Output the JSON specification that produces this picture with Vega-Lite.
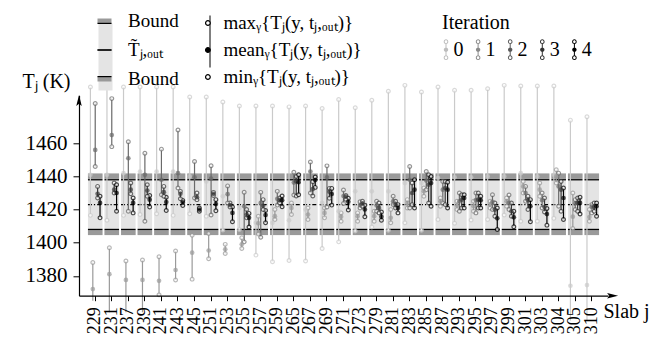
{
 "$schema": "https://vega.github.io/schema/vega-lite/v6.json",
 "width": 529,
 "height": 200.4,
 "autosize": {"type": "none"},
 "padding": {"left": 79, "top": 95.3, "right": 48, "bottom": 49.3},
 "config": {
  "view": {"stroke": null},
  "font": "Liberation Serif",
  "style": {"guide-label": {"font": "Liberation Serif"}, "guide-title": {"font": "Liberation Serif"}},
  "axis": {"domainColor": "black", "tickColor": "black", "labelColor": "black", "titleColor": "black", "labelFont": "Liberation Serif", "titleFont": "Liberation Serif", "grid": false, "labelFontSize": 20, "titleFontSize": 20, "titleFontWeight": "normal", "tickSize": 5, "domainWidth": 1.2, "tickWidth": 1},
  "legend": {"labelFont": "Liberation Serif", "titleFont": "Liberation Serif", "labelColor": "black", "titleColor": "black", "labelFontSize": 19, "titleFontSize": 20, "titleFontWeight": "normal", "padding": 0, "labelLimit": 400}
 },
 "datasets": {
  "slabs": [
   {"slab":"229","lo":1404.6,"lo_in":1407.6,"lb":1408,"t":1423,"ub":1438,"hi_in":1438.5,"hi":1441.8},
   {"slab":"231","lo":1404.6,"lo_in":1407.6,"lb":1408,"t":1423,"ub":1438,"hi_in":1438.5,"hi":1441.8},
   {"slab":"237","lo":1404.6,"lo_in":1407.6,"lb":1408,"t":1423,"ub":1438,"hi_in":1438.5,"hi":1441.8},
   {"slab":"239","lo":1404.6,"lo_in":1407.6,"lb":1408,"t":1423,"ub":1438,"hi_in":1438.5,"hi":1441.8},
   {"slab":"241","lo":1404.6,"lo_in":1407.6,"lb":1408,"t":1423,"ub":1438,"hi_in":1438.5,"hi":1441.8},
   {"slab":"243","lo":1404.6,"lo_in":1407.6,"lb":1408,"t":1423,"ub":1438,"hi_in":1438.5,"hi":1441.8},
   {"slab":"245","lo":1404.6,"lo_in":1407.6,"lb":1408,"t":1423,"ub":1438,"hi_in":1438.5,"hi":1441.8},
   {"slab":"251","lo":1404.6,"lo_in":1407.6,"lb":1408,"t":1423,"ub":1438,"hi_in":1438.5,"hi":1441.8},
   {"slab":"253","lo":1404.6,"lo_in":1407.6,"lb":1408,"t":1423,"ub":1438,"hi_in":1438.5,"hi":1441.8},
   {"slab":"255","lo":1404.6,"lo_in":1407.6,"lb":1408,"t":1423,"ub":1438,"hi_in":1438.5,"hi":1441.8},
   {"slab":"257","lo":1404.6,"lo_in":1407.6,"lb":1408,"t":1423,"ub":1438,"hi_in":1438.5,"hi":1441.8},
   {"slab":"259","lo":1404.6,"lo_in":1407.6,"lb":1408,"t":1423,"ub":1438,"hi_in":1438.5,"hi":1441.8},
   {"slab":"265","lo":1404.6,"lo_in":1407.6,"lb":1408,"t":1423,"ub":1438,"hi_in":1438.5,"hi":1441.8},
   {"slab":"267","lo":1404.6,"lo_in":1407.6,"lb":1408,"t":1423,"ub":1438,"hi_in":1438.5,"hi":1441.8},
   {"slab":"269","lo":1404.6,"lo_in":1407.6,"lb":1408,"t":1423,"ub":1438,"hi_in":1438.5,"hi":1441.8},
   {"slab":"271","lo":1404.6,"lo_in":1407.6,"lb":1408,"t":1423,"ub":1438,"hi_in":1438.5,"hi":1441.8},
   {"slab":"273","lo":1404.6,"lo_in":1407.6,"lb":1408,"t":1423,"ub":1438,"hi_in":1438.5,"hi":1441.8},
   {"slab":"279","lo":1404.6,"lo_in":1407.6,"lb":1408,"t":1423,"ub":1438,"hi_in":1438.5,"hi":1441.8},
   {"slab":"281","lo":1404.6,"lo_in":1407.6,"lb":1408,"t":1423,"ub":1438,"hi_in":1438.5,"hi":1441.8},
   {"slab":"283","lo":1404.6,"lo_in":1407.6,"lb":1408,"t":1423,"ub":1438,"hi_in":1438.5,"hi":1441.8},
   {"slab":"285","lo":1404.6,"lo_in":1407.6,"lb":1408,"t":1423,"ub":1438,"hi_in":1438.5,"hi":1441.8},
   {"slab":"287","lo":1404.6,"lo_in":1407.6,"lb":1408,"t":1423,"ub":1438,"hi_in":1438.5,"hi":1441.8},
   {"slab":"293","lo":1404.6,"lo_in":1407.6,"lb":1408,"t":1423,"ub":1438,"hi_in":1438.5,"hi":1441.8},
   {"slab":"295","lo":1404.6,"lo_in":1407.6,"lb":1408,"t":1423,"ub":1438,"hi_in":1438.5,"hi":1441.8},
   {"slab":"297","lo":1404.6,"lo_in":1407.6,"lb":1408,"t":1423,"ub":1438,"hi_in":1438.5,"hi":1441.8},
   {"slab":"299","lo":1404.6,"lo_in":1407.6,"lb":1408,"t":1423,"ub":1438,"hi_in":1438.5,"hi":1441.8},
   {"slab":"301","lo":1404.6,"lo_in":1407.6,"lb":1408,"t":1423,"ub":1438,"hi_in":1438.5,"hi":1441.8},
   {"slab":"303","lo":1404.6,"lo_in":1407.6,"lb":1408,"t":1423,"ub":1438,"hi_in":1438.5,"hi":1441.8},
   {"slab":"304","lo":1404.6,"lo_in":1407.6,"lb":1408,"t":1423,"ub":1438,"hi_in":1438.5,"hi":1441.8},
   {"slab":"305","lo":1404.6,"lo_in":1407.6,"lb":1408,"t":1423,"ub":1438,"hi_in":1438.5,"hi":1441.8},
   {"slab":"310","lo":1404.6,"lo_in":1407.6,"lb":1408,"t":1423,"ub":1438,"hi_in":1438.5,"hi":1441.8}
  ],
  "stats": [
   {"s":"229","it":0,"mn":1416.5,"me":1441,"mx":1494},{"s":"229","it":1,"mn":1365,"me":1372,"mx":1388},{"s":"229","it":2,"mn":1446,"me":1456,"mx":1484},{"s":"229","it":3,"mn":1427,"me":1429.5,"mx":1434},{"s":"229","it":4,"mn":1415,"me":1424,"mx":1428},
   {"s":"231","it":0,"mn":1413.5,"me":1441,"mx":1495},{"s":"231","it":1,"mn":1358,"me":1381,"mx":1397},{"s":"231","it":2,"mn":1458,"me":1465,"mx":1487},{"s":"231","it":3,"mn":1430,"me":1432,"mx":1436},{"s":"231","it":4,"mn":1419,"me":1430,"mx":1435},
   {"s":"237","it":0,"mn":1416.5,"me":1442,"mx":1494},{"s":"237","it":1,"mn":1358,"me":1377.5,"mx":1389},{"s":"237","it":2,"mn":1419,"me":1451,"mx":1461},{"s":"237","it":3,"mn":1429.5,"me":1432,"mx":1436},{"s":"237","it":4,"mn":1418,"me":1424,"mx":1427},
   {"s":"239","it":0,"mn":1417,"me":1443,"mx":1494},{"s":"239","it":1,"mn":1358,"me":1377.5,"mx":1389.5},{"s":"239","it":2,"mn":1413,"me":1441,"mx":1454},{"s":"239","it":3,"mn":1428,"me":1431.5,"mx":1435},{"s":"239","it":4,"mn":1421.5,"me":1426,"mx":1428.5},
   {"s":"241","it":0,"mn":1417.5,"me":1443,"mx":1494},{"s":"241","it":1,"mn":1368.5,"me":1377,"mx":1391.5},{"s":"241","it":2,"mn":1429,"me":1438,"mx":1456.5},{"s":"241","it":3,"mn":1428,"me":1430.5,"mx":1434},{"s":"241","it":4,"mn":1419.5,"me":1424.5,"mx":1427.5},
   {"s":"243","it":0,"mn":1416.5,"me":1443,"mx":1494},{"s":"243","it":1,"mn":1377.5,"me":1383.5,"mx":1395},{"s":"243","it":2,"mn":1433,"me":1442,"mx":1468},{"s":"243","it":3,"mn":1426.5,"me":1429.5,"mx":1431},{"s":"243","it":4,"mn":1422.5,"me":1424.3,"mx":1425.5},
   {"s":"245","it":0,"mn":1417.5,"me":1440,"mx":1488},{"s":"245","it":1,"mn":1378,"me":1394,"mx":1404.5},{"s":"245","it":2,"mn":1427,"me":1439.5,"mx":1449},{"s":"245","it":3,"mn":1426,"me":1427.5,"mx":1430},{"s":"245","it":4,"mn":1419,"me":1420,"mx":1421},
   {"s":"251","it":0,"mn":1416,"me":1437,"mx":1488},{"s":"251","it":1,"mn":1390.3,"me":1395.3,"mx":1405.5},{"s":"251","it":2,"mn":1416.7,"me":1438.7,"mx":1446.5},{"s":"251","it":3,"mn":1428.5,"me":1429.5,"mx":1430.4},{"s":"251","it":4,"mn":1419.3,"me":1423.3,"mx":1426},
   {"s":"253","it":0,"mn":1407.6,"me":1428,"mx":1485},{"s":"253","it":1,"mn":1393.5,"me":1396,"mx":1399},{"s":"253","it":2,"mn":1424,"me":1429.3,"mx":1434.3},{"s":"253","it":3,"mn":1421.5,"me":1422.7,"mx":1424},{"s":"253","it":4,"mn":1412.7,"me":1418,"mx":1421.5},
   {"s":"255","it":0,"mn":1408,"me":1421,"mx":1482.5},{"s":"255","it":1,"mn":1396.5,"me":1399,"mx":1403},{"s":"255","it":2,"mn":1400.5,"me":1422,"mx":1430.5},{"s":"255","it":3,"mn":1415,"me":1417,"mx":1420},{"s":"255","it":4,"mn":1409.5,"me":1415,"mx":1417.7},
   {"s":"257","it":0,"mn":1392.5,"me":1412,"mx":1482.5},{"s":"257","it":1,"mn":1405.2,"me":1411.7,"mx":1416},{"s":"257","it":2,"mn":1403.3,"me":1424,"mx":1430.4},{"s":"257","it":3,"mn":1420,"me":1422.3,"mx":1426},{"s":"257","it":4,"mn":1412,"me":1416.7,"mx":1419.5},
   {"s":"259","it":0,"mn":1388.5,"me":1412,"mx":1482.5},{"s":"259","it":1,"mn":1414,"me":1416,"mx":1420},{"s":"259","it":2,"mn":1422.7,"me":1426.5,"mx":1431},{"s":"259","it":3,"mn":1424,"me":1425.7,"mx":1427},{"s":"259","it":4,"mn":1421.7,"me":1425.7,"mx":1428.2},
   {"s":"265","it":0,"mn":1389.3,"me":1413.5,"mx":1482},{"s":"265","it":1,"mn":1417,"me":1421,"mx":1424},{"s":"265","it":2,"mn":1428.8,"me":1436.3,"mx":1442.5},{"s":"265","it":3,"mn":1428.2,"me":1437,"mx":1440},{"s":"265","it":4,"mn":1429,"me":1436.5,"mx":1441},
   {"s":"267","it":0,"mn":1389,"me":1420,"mx":1482.5},{"s":"267","it":1,"mn":1414,"me":1417,"mx":1421},{"s":"267","it":2,"mn":1430,"me":1443,"mx":1448.7},{"s":"267","it":3,"mn":1428.2,"me":1432.4,"mx":1436.8},{"s":"267","it":4,"mn":1433.4,"me":1437.8,"mx":1439.7},
   {"s":"269","it":0,"mn":1396.5,"me":1424,"mx":1481},{"s":"269","it":1,"mn":1415,"me":1418,"mx":1421},{"s":"269","it":2,"mn":1421.5,"me":1439.4,"mx":1446.4},{"s":"269","it":3,"mn":1426.8,"me":1430.8,"mx":1432.8},{"s":"269","it":4,"mn":1422.7,"me":1429.4,"mx":1432.8},
   {"s":"271","it":0,"mn":1400.5,"me":1419,"mx":1486.5},{"s":"271","it":1,"mn":1413,"me":1415.7,"mx":1418},{"s":"271","it":2,"mn":1423.7,"me":1428.2,"mx":1431.8},{"s":"271","it":3,"mn":1426.2,"me":1427.8,"mx":1428.5},{"s":"271","it":4,"mn":1419.7,"me":1424.7,"mx":1426.8},
   {"s":"273","it":0,"mn":1407,"me":1431,"mx":1481.5},{"s":"273","it":1,"mn":1413,"me":1416,"mx":1418},{"s":"273","it":2,"mn":1421,"me":1422.7,"mx":1424.7},{"s":"273","it":3,"mn":1422,"me":1423.7,"mx":1425},{"s":"273","it":4,"mn":1415.7,"me":1420.1,"mx":1422.7},
   {"s":"279","it":0,"mn":1409.5,"me":1431,"mx":1486},{"s":"279","it":1,"mn":1413,"me":1416,"mx":1419},{"s":"279","it":2,"mn":1419,"me":1422.5,"mx":1425},{"s":"279","it":3,"mn":1418,"me":1421,"mx":1424},{"s":"279","it":4,"mn":1413.5,"me":1415.7,"mx":1418.5},
   {"s":"281","it":0,"mn":1407.5,"me":1431,"mx":1491.5},{"s":"281","it":1,"mn":1412,"me":1415,"mx":1420},{"s":"281","it":2,"mn":1423,"me":1425,"mx":1428},{"s":"281","it":3,"mn":1421,"me":1423,"mx":1425},{"s":"281","it":4,"mn":1418,"me":1421,"mx":1423},
   {"s":"283","it":0,"mn":1412,"me":1436,"mx":1495},{"s":"283","it":1,"mn":1421,"me":1424,"mx":1426},{"s":"283","it":2,"mn":1421,"me":1438,"mx":1446},{"s":"283","it":3,"mn":1423,"me":1430,"mx":1436},{"s":"283","it":4,"mn":1421,"me":1432,"mx":1438},
   {"s":"285","it":0,"mn":1407.5,"me":1436,"mx":1491},{"s":"285","it":1,"mn":1428,"me":1431,"mx":1433},{"s":"285","it":2,"mn":1432,"me":1437.5,"mx":1443},{"s":"285","it":3,"mn":1424,"me":1435,"mx":1441},{"s":"285","it":4,"mn":1422,"me":1436,"mx":1440},
   {"s":"287","it":0,"mn":1414,"me":1439,"mx":1494},{"s":"287","it":1,"mn":1422,"me":1425,"mx":1427},{"s":"287","it":2,"mn":1424,"me":1432,"mx":1437},{"s":"287","it":3,"mn":1423,"me":1433,"mx":1437},{"s":"287","it":4,"mn":1421,"me":1432,"mx":1436.5},
   {"s":"293","it":0,"mn":1411.7,"me":1439.5,"mx":1492},{"s":"293","it":1,"mn":1420,"me":1422.5,"mx":1425},{"s":"293","it":2,"mn":1419,"me":1425,"mx":1430},{"s":"293","it":3,"mn":1421,"me":1426,"mx":1429},{"s":"293","it":4,"mn":1421,"me":1427,"mx":1429},
   {"s":"295","it":0,"mn":1413.7,"me":1439.5,"mx":1492},{"s":"295","it":1,"mn":1419,"me":1422,"mx":1425},{"s":"295","it":2,"mn":1418,"me":1425.7,"mx":1430},{"s":"295","it":3,"mn":1421,"me":1426,"mx":1430},{"s":"295","it":4,"mn":1421,"me":1425.7,"mx":1428},
   {"s":"297","it":0,"mn":1414,"me":1440,"mx":1493},{"s":"297","it":1,"mn":1421,"me":1423,"mx":1425},{"s":"297","it":2,"mn":1420,"me":1424.7,"mx":1429},{"s":"297","it":3,"mn":1416,"me":1420,"mx":1424},{"s":"297","it":4,"mn":1408,"me":1414.7,"mx":1421},
   {"s":"299","it":0,"mn":1416.7,"me":1440,"mx":1495},{"s":"299","it":1,"mn":1422,"me":1425,"mx":1427},{"s":"299","it":2,"mn":1420,"me":1424,"mx":1428.8},{"s":"299","it":3,"mn":1416,"me":1419,"mx":1424},{"s":"299","it":4,"mn":1409.6,"me":1415.3,"mx":1419},
   {"s":"301","it":0,"mn":1413,"me":1442,"mx":1494.6},{"s":"301","it":1,"mn":1430,"me":1434,"mx":1437},{"s":"301","it":2,"mn":1425,"me":1430,"mx":1434},{"s":"301","it":3,"mn":1420,"me":1425.7,"mx":1428},{"s":"301","it":4,"mn":1412.6,"me":1422,"mx":1426},
   {"s":"303","it":0,"mn":1413,"me":1440,"mx":1494.6},{"s":"303","it":1,"mn":1428,"me":1432,"mx":1436},{"s":"303","it":2,"mn":1421,"me":1425.7,"mx":1430},{"s":"303","it":3,"mn":1418.5,"me":1421.5,"mx":1427},{"s":"303","it":4,"mn":1410.6,"me":1417.3,"mx":1420.7},
   {"s":"304","it":0,"mn":1414.7,"me":1441,"mx":1494.6},{"s":"304","it":1,"mn":1436,"me":1440,"mx":1444},{"s":"304","it":2,"mn":1422,"me":1434,"mx":1442},{"s":"304","it":3,"mn":1419,"me":1432,"mx":1437},{"s":"304","it":4,"mn":1414,"me":1427,"mx":1433},
   {"s":"305","it":0,"mn":1353,"me":1374,"mx":1474},{"s":"305","it":1,"mn":1408.6,"me":1415.7,"mx":1430},{"s":"305","it":2,"mn":1420,"me":1423.7,"mx":1426},{"s":"305","it":3,"mn":1419,"me":1424,"mx":1427},{"s":"305","it":4,"mn":1417.3,"me":1424,"mx":1427.4},
   {"s":"310","it":0,"mn":1353,"me":1374.4,"mx":1476},{"s":"310","it":1,"mn":1413,"me":1415.5,"mx":1420},{"s":"310","it":2,"mn":1418,"me":1421.7,"mx":1423},{"s":"310","it":3,"mn":1419,"me":1421.5,"mx":1424},{"s":"310","it":4,"mn":1416,"me":1422,"mx":1424}
  ]
 },
 "layer": [
  {
   "data": {"name": "slabs"},
   "mark": {"type": "rect", "fill": "#e4e4e4"},
   "encoding": {
    "x": {"field": "slab", "type": "nominal",
     "scale": {"type": "band", "domain": ["229","231","237","239","241","243","245","251","253","255","257","259","265","267","269","271","273","279","281","283","285","287","293","295","297","299","301","303","304","305","310"], "paddingInner": 0.12, "paddingOuter": 0.54},
     "axis": {"labelAngle": -90, "labelAlign": "right", "labelBaseline": "middle", "labelPadding": 6, "labelFontSize": 18, "labelFont": "Liberation Serif", "titleFont": "Liberation Serif", "title": "Slab j", "titleAngle": 0, "titleX": 524, "titleY": 22, "titleAlign": "left", "titleBaseline": "alphabetic"}},
    "y": {"field": "lo", "type": "quantitative",
     "scale": {"domain": [1368, 1489], "nice": false, "zero": false},
     "axis": {"values": [1380, 1400, 1420, 1440, 1460], "format": "d", "labelFontSize": 21, "labelFont": "Liberation Serif", "titleFont": "Liberation Serif", "title": "Tⱼ (K)", "titleAngle": 0, "titleX": -57, "titleY": -8, "titleAlign": "left", "titleBaseline": "alphabetic", "labelPadding": 6, "tickSize": 6}},
    "y2": {"field": "hi"}
   }
  },
  {
   "data": {"name": "slabs"},
   "mark": {"type": "rect", "fill": "#9a9a9a"},
   "encoding": {"x": {"field": "slab", "type": "nominal"}, "y": {"field": "hi_in", "type": "quantitative"}, "y2": {"field": "hi"}}
  },
  {
   "data": {"name": "slabs"},
   "mark": {"type": "rect", "fill": "#9a9a9a"},
   "encoding": {"x": {"field": "slab", "type": "nominal"}, "y": {"field": "lo", "type": "quantitative"}, "y2": {"field": "lo_in"}}
  },
  {
   "data": {"name": "slabs"},
   "mark": {"type": "rule", "color": "black", "strokeWidth": 1.3},
   "encoding": {"x": {"field": "slab", "type": "nominal", "bandPosition": 0}, "x2": {"field": "slab", "bandPosition": 1}, "y": {"field": "ub", "type": "quantitative"}}
  },
  {
   "data": {"name": "slabs"},
   "mark": {"type": "rule", "color": "black", "strokeWidth": 1.3},
   "encoding": {"x": {"field": "slab", "type": "nominal", "bandPosition": 0}, "x2": {"field": "slab", "bandPosition": 1}, "y": {"field": "lb", "type": "quantitative"}}
  },
  {
   "data": {"name": "slabs"},
   "mark": {"type": "rule", "color": "black", "strokeWidth": 1.1, "strokeDash": [4, 2, 1.2, 2]},
   "encoding": {"x": {"field": "slab", "type": "nominal", "bandPosition": 0}, "x2": {"field": "slab", "bandPosition": 1}, "y": {"field": "t", "type": "quantitative"}}
  },
  {
   "data": {"name": "stats"},
   "mark": {"type": "rule", "strokeWidth": 1.2},
   "encoding": {
    "x": {"field": "s", "type": "nominal"},
    "xOffset": {"field": "it", "type": "nominal", "scale": {"type": "band", "domain": [0,1,2,3,4], "paddingInner": 0, "paddingOuter": 0.53}},
    "y": {"field": "mn", "type": "quantitative"}, "y2": {"field": "mx"},
    "stroke": {"field": "it", "type": "nominal", "scale": {"domain": [0,1,2,3,4], "range": ["#cacaca", "#9a9a9a", "#6a6a6a", "#383838", "#000000"]}, "legend": null}
   }
  },
  {
   "data": {"name": "stats"},
   "mark": {"type": "point", "shape": "circle", "filled": true, "fill": "white", "size": 14, "strokeWidth": 1.2},
   "encoding": {
    "x": {"field": "s", "type": "nominal"},
    "xOffset": {"field": "it", "type": "nominal"},
    "y": {"field": "mx", "type": "quantitative"},
    "stroke": {"field": "it", "type": "nominal", "legend": null}
   }
  },
  {
   "data": {"name": "stats"},
   "transform": [{"filter": "datum.mn >= 1366"}],
   "mark": {"type": "point", "shape": "circle", "filled": true, "fill": "white", "size": 14, "strokeWidth": 1.2},
   "encoding": {
    "x": {"field": "s", "type": "nominal"},
    "xOffset": {"field": "it", "type": "nominal"},
    "y": {"field": "mn", "type": "quantitative"},
    "stroke": {"field": "it", "type": "nominal", "legend": null}
   }
  },
  {
   "data": {"name": "stats"},
   "mark": {"type": "point", "shape": "circle", "filled": true, "size": 22, "strokeWidth": 0},
   "encoding": {
    "x": {"field": "s", "type": "nominal"},
    "xOffset": {"field": "it", "type": "nominal"},
    "y": {"field": "me", "type": "quantitative"},
    "fill": {"field": "it", "type": "nominal", "scale": {"domain": [0,1,2,3,4], "range": ["#cacaca", "#9a9a9a", "#6a6a6a", "#383838", "#000000"]}, "legend": null}
   }
  },
  {
   "data": {"values": [{"slab": "229", "T": 1485.9}]},
   "mark": {"type": "point", "shape": "M-0.5,1L0,-1L0.5,1L0,0.6Z", "filled": true, "color": "black", "size": 121, "strokeWidth": 0, "opacity": 1},
   "encoding": {"x": {"field": "slab", "type": "nominal", "bandPosition": -0.613}, "y": {"field": "T", "type": "quantitative"}}
  },
  {
   "data": {"values": [{"slab": "310", "T": 1368}]},
   "mark": {"type": "point", "shape": "M-1,-0.5L1,0L-1,0.5L-0.6,0Z", "filled": true, "color": "black", "size": 121, "strokeWidth": 0, "opacity": 1},
   "encoding": {"x": {"field": "slab", "type": "nominal", "bandPosition": 1.928}, "y": {"field": "T", "type": "quantitative"}}
  },
  {
   "data": {"values": [{"k": "bg"}]},
   "mark": {"type": "point", "filled": true, "opacity": 0},
   "encoding": {
    "fill": {"field": "k", "type": "nominal", "scale": {"range": ["#e4e4e4"]},
     "legend": {"orient": "none", "legendX": 17, "legendY": -47.8, "title": null, "symbolType": "M-7,-33.5H7V33.5H-7Z", "symbolSize": 4, "symbolStrokeWidth": 0, "symbolOpacity": 1, "labelExpr": "''"}}
   }
  },
  {
   "data": {"values": [{"b": "Bound"}, {"b": "T̃ⱼ,ₒᵤₜ"}, {"b": "Bound "}]},
   "mark": {"type": "point", "filled": true, "opacity": 0},
   "encoding": {
    "fill": {"field": "b", "type": "nominal", "scale": {"domain": ["Bound", "T̃ⱼ,ₒᵤₜ", "Bound "], "range": ["#9a9a9a", "#000000", "#9a9a9a"]},
     "legend": {"orient": "none", "legendX": 18, "legendY": -83.8, "title": null, "symbolSize": 4, "symbolStrokeWidth": 0, "symbolOpacity": 1, "symbolOffset": -2, "labelOffset": 14, "rowPadding": 9}},
    "shape": {"field": "b", "type": "nominal", "scale": {"domain": ["Bound", "T̃ⱼ,ₒᵤₜ", "Bound "], "range": ["M-7,-2.5H7V2.5H-7Z", "M-7,-0.6H7V0.6H-7Z", "M-7,-2.5H7V2.5H-7Z"]},
     "legend": {"orient": "none", "legendX": 18, "legendY": -83.8, "title": null, "symbolSize": 4, "symbolStrokeWidth": 0, "symbolOpacity": 1, "symbolOffset": -2, "labelOffset": 14, "rowPadding": 9}}
   }
  },
  {
   "data": {"values": [{"c": "Bound"}, {"c": "T̃ⱼ,ₒᵤₜ"}, {"c": "Bound "}]},
   "mark": {"type": "point", "filled": true, "opacity": 0},
   "encoding": {
    "fill": {"field": "c", "type": "nominal", "scale": {"domain": ["Bound", "T̃ⱼ,ₒᵤₜ", "Bound "], "range": ["#000000", "#000000", "#000000"]},
     "legend": {"orient": "none", "legendX": 18, "legendY": -83.8, "title": null, "symbolSize": 4, "symbolStrokeWidth": 0, "symbolOpacity": 1, "symbolOffset": -2, "labelOffset": 14, "rowPadding": 9, "labelOpacity": 0}},
    "shape": {"field": "c", "type": "nominal", "scale": {"domain": ["Bound", "T̃ⱼ,ₒᵤₜ", "Bound "], "range": ["M-7,1.8H7V3H-7Z", "M-7,-0.6H7V0.6H-7Z", "M-7,-3H7V-1.8H-7Z"]},
     "legend": {"orient": "none", "legendX": 18, "legendY": -83.8, "title": null, "symbolSize": 4, "symbolStrokeWidth": 0, "symbolOpacity": 1, "symbolOffset": -2, "labelOffset": 14, "rowPadding": 9, "labelOpacity": 0}}
   }
  },
  {
   "data": {"values": [{"d": "line"}]},
   "mark": {"type": "point", "filled": true, "opacity": 0},
   "encoding": {
    "fill": {"field": "d", "type": "nominal", "scale": {"range": ["#000000"]},
     "legend": {"orient": "none", "legendX": 121.5, "legendY": -63.3, "title": null, "symbolType": "M-0.5,-26H0.5V26H-0.5Z", "symbolSize": 4, "symbolStrokeWidth": 0, "symbolOpacity": 1, "labelExpr": "''"}}
   }
  },
  {
   "data": {"values": [{"e": "maxᵧ{Tⱼ(y, tⱼ,ₒᵤₜ)}"}, {"e": "meanᵧ{Tⱼ(y, tⱼ,ₒᵤₜ)}"}, {"e": "minᵧ{Tⱼ(y, tⱼ,ₒᵤₜ)}"}]},
   "mark": {"type": "point", "filled": true, "opacity": 0, "stroke": "black", "strokeWidth": 1.2},
   "encoding": {
    "fill": {"field": "e", "type": "nominal", "scale": {"domain": ["maxᵧ{Tⱼ(y, tⱼ,ₒᵤₜ)}", "meanᵧ{Tⱼ(y, tⱼ,ₒᵤₜ)}", "minᵧ{Tⱼ(y, tⱼ,ₒᵤₜ)}"], "range": ["#ffffff", "#000000", "#ffffff"]},
     "legend": {"orient": "none", "legendX": 119.4, "legendY": -81.8, "title": null, "symbolType": "circle", "symbolSize": 22, "symbolStrokeColor": "black", "symbolStrokeWidth": 1.2, "symbolOpacity": 1, "labelOffset": 6, "rowPadding": 7}}
   }
  },
  {
   "data": {"values": [{"it": 0}, {"it": 1}, {"it": 2}, {"it": 3}, {"it": 4}]},
   "mark": {"type": "point", "filled": true, "opacity": 0},
   "encoding": {
    "fill": {"field": "it", "type": "nominal", "scale": {"domain": [0,1,2,3,4], "range": ["#bdbdbd", "#8a8a8a", "#5a5a5a", "#333333", "#000000"]},
     "legend": {"orient": "none", "legendX": 363, "legendY": -82, "title": "Iteration", "direction": "horizontal", "symbolType": "M0,-10.3A2.3,2.3 0 0,1 0,-5.7A2.3,2.3 0 0,1 0,-10.3ZM0,-9.3A1.3,1.3 0 0,0 0,-6.7A1.3,1.3 0 0,0 0,-9.3ZM-0.5,-5.7H0.5V-2.2H-0.5ZM0,-2.2A2.2,2.2 0 0,1 0,2.2A2.2,2.2 0 0,1 0,-2.2ZM-0.5,2.2H0.5V5.7H-0.5ZM0,5.7A2.3,2.3 0 0,1 0,10.3A2.3,2.3 0 0,1 0,5.7ZM0,6.7A1.3,1.3 0 0,0 0,9.3A1.3,1.3 0 0,0 0,6.7Z", "symbolSize": 4, "symbolStrokeWidth": 0, "symbolOpacity": 1, "symbolOffset": -6, "labelOffset": -2.6, "columnPadding": 10.1, "titlePadding": 6, "labelFontSize": 20}}
   }
  }
 ],
 "resolve": {"scale": {"fill": "independent", "shape": "independent"}, "legend": {"fill": "independent", "shape": "independent"}}
}
